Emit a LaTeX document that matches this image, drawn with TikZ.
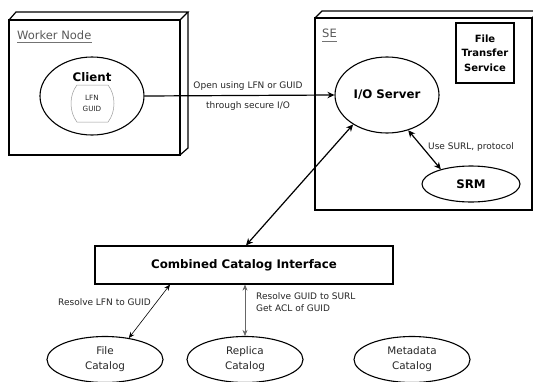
\documentclass[tikz,border=0pt]{standalone}
\usepackage{fontspec}
\setmainfont{DejaVu Sans}
\usetikzlibrary{shapes.geometric,arrows.meta}
\begin{document}
\begin{tikzpicture}[x=1pt,y=-1pt,
  ell/.style={ellipse, draw, line width=1.1pt, inner sep=0pt},
  boxline/.style={line width=1.2pt},
  bigtxt/.style={font=\bfseries\fontsize{11.8}{14}\selectfont},
  smalltxt/.style={font=\fontsize{9}{12}\selectfont, text=black!85, inner sep=0pt},
  cattxt/.style={font=\fontsize{10.4}{15}\selectfont, text=black!85, align=center, inner sep=0pt},
  titletxt/.style={font=\fontsize{11.5}{14}\selectfont, text=black!65, inner sep=0pt, anchor=west},
  bigarr/.style={{Stealth[length=7pt,width=6.5pt]}-{Stealth[length=7pt,width=6.5pt]}, line width=1.2pt},
  thinarr/.style={{Stealth[length=6pt,width=5pt]}-{Stealth[length=6pt,width=5pt]}, line width=0.6pt}]
\useasboundingbox (0,0) rectangle (533,381);
\clip (0,0) rectangle (533,381);
\fill[white] (0,0) rectangle (533,381);
% Worker node 3D box
\draw[boxline] (9,20) rectangle (180,155);
\draw[boxline] (9,20) -- (16,12) -- (188,12) -- (180,20);
\draw[boxline] (188,12) -- (188,148) -- (180,155);
\node[titletxt] (wn) at (17,35) {Worker Node};
\draw[black!55, line width=0.6pt] (17,42) -- (92,42);
% SE 3D box
\draw[boxline] (315,18) rectangle (532,210);
\draw[boxline] (315,18) -- (322,11) -- (539,11) -- (532,18);
\draw[boxline] (539,11) -- (539,203) -- (532,210);
\node[titletxt] (se) at (322,33) {SE};
\draw[black!55, line width=0.6pt] (322,41) -- (337,41);
% Client
\node[ell, minimum width=104pt, minimum height=78pt] (client) at (92,96) {};
\node[bigtxt, inner sep=0pt] (clienttxt) at (92,77) {Client};
\draw[black!40, line width=0.5pt] (77,85) -- (108,85) .. controls (116,95) and (116,112) .. (108,122) -- (77,122) .. controls (69,112) and (69,95) .. (77,85);
\node[font=\fontsize{7.2}{11}\selectfont, align=center, inner sep=0pt, text=black!85] (lfn) at (92,103.5) {LFN\\GUID};
% FTS
\node[draw, boxline, minimum width=58pt, minimum height=60pt, align=center, inner sep=0pt,
      font=\bfseries\fontsize{10}{14.5}\selectfont] (fts) at (485,53) {File\\Transfer\\Service};
% I/O Server and SRM
\node[ell, minimum width=104pt, minimum height=76pt, bigtxt] (io) at (387,95) {I/O Server};
\node[ell, minimum width=98pt, minimum height=36pt, bigtxt] (srm) at (471,184) {SRM};
% Combined catalog
\node[draw, boxline, minimum width=298pt, minimum height=38pt, bigtxt] (cci) at (244,265) {Combined Catalog Interface};
% Catalogs
\node[ell, minimum width=116pt, minimum height=46pt, cattxt] (fc) at (105,359.5) {File\\Catalog};
\node[ell, minimum width=116pt, minimum height=46pt, cattxt] (rc) at (245,359.5) {Replica\\Catalog};
\node[ell, minimum width=116pt, minimum height=46pt, cattxt] (mc) at (412,359.5) {Metadata\\Catalog};
% Connectors
\draw[line width=1.2pt, -{Stealth[length=7pt,width=6.5pt]}] (client.east) -- (io.west);
\node[smalltxt] (l1) at (248,86) {Open using LFN or GUID};
\node[smalltxt] (l2) at (248,106) {through secure I/O};
\draw[bigarr] (io.-59) -- (srm.154);
\node[smalltxt, anchor=west] (l3) at (428,147) {Use SURL, protocol};
\draw[bigarr] (io.-139) -- ([xshift=2pt]cci.north);
\draw[thinarr] ([xshift=-74pt]cci.south) -- (fc.42);
\node[smalltxt, anchor=east] (l4) at (151,302) {Resolve LFN to GUID};
\draw[thinarr, draw=black!60] ([xshift=1pt]cci.south) -- (rc.north);
\node[smalltxt, anchor=west, align=left] (l5) at (256,302) {Resolve GUID to SURL\\Get ACL of GUID};
\end{tikzpicture}
\end{document}
